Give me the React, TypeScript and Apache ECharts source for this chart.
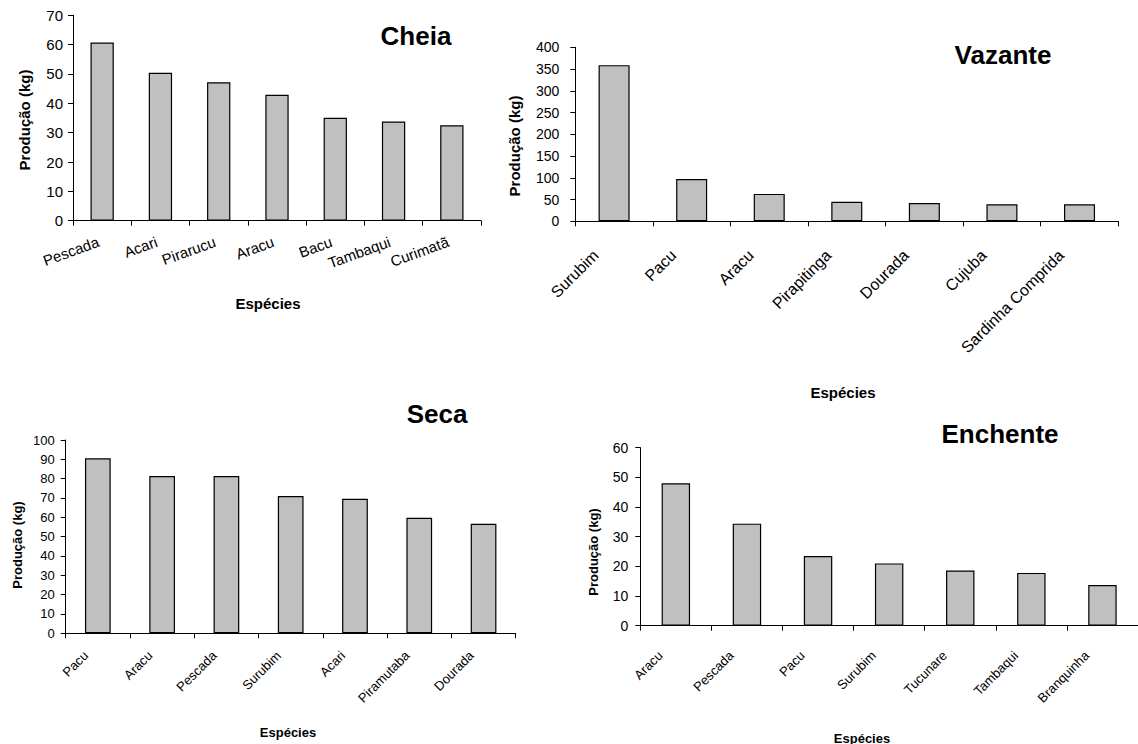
import React, { useEffect, useRef } from "react";
import * as echarts from "echarts";

const cheiaCategories = ["Pescada", "Acari", "Pirarucu", "Aracu", "Bacu", "Tambaqui", "Curimatã"];
const cheiaValues = [60.7, 50.4, 47.2, 42.9, 35.1, 33.8, 32.5];

const vazanteCategories = ["Surubim", "Pacu", "Aracu", "Pirapitinga", "Dourada", "Cujuba", "Sardinha Comprida"];
const vazanteValues = [359, 97, 63, 45, 42, 39, 39];

const secaCategories = ["Pacu", "Aracu", "Pescada", "Surubim", "Acari", "Piramutaba", "Dourada"];
const secaValues = [90.5, 81.4, 81.4, 71, 69.6, 59.8, 56.7];

const enchenteCategories = ["Aracu", "Pescada", "Pacu", "Surubim", "Tucunare", "Tambaqui", "Branquinha"];
const enchenteValues = [48, 34.4, 23.5, 21, 18.6, 17.8, 13.7];

const titles = ["Cheia", "Vazante", "Seca", "Enchente"];
const yMax = [70, 400, 100, 60];
const yInterval = [10, 50, 10, 10];
const yName = "Produção (kg)";
const xName = "Espécies";

const FONT = "'Liberation Sans', Arial, sans-serif";

export default function App() {
  const ref = useRef<HTMLDivElement>(null);
  useEffect(() => {
    document.body.style.margin = "0";
    const chart = echarts.init(ref.current!, null, { renderer: "svg" });

    const panels = [
      { cats: cheiaCategories, vals: cheiaValues, grid: { left: 73, top: 15.3, width: 408, height: 205.4 },
        yFont: 15, yMargin: 10, xFont: 15, rotate: 20, xMargin: 19, pad: 4 },
      { cats: vazanteCategories, vals: vazanteValues, grid: { left: 575.3, top: 47.3, width: 543, height: 174 },
        yFont: 14, yMargin: 16, xFont: 16, rotate: 45, xMargin: 13, pad: 26 },
      { cats: secaCategories, vals: secaValues, grid: { left: 65.7, top: 440, width: 450, height: 193.3 },
        yFont: 13, yMargin: 11, xFont: 13, rotate: 45, xMargin: 8, pad: 17 },
      { cats: enchenteCategories, vals: enchenteValues, grid: { left: 640.3, top: 447.7, width: 502.7, height: 178 },
        yFont: 14, yMargin: 12, xFont: 13, rotate: 45, xMargin: 12, pad: 22 },
    ];

    const axisLine = { show: true, lineStyle: { color: "#000", width: 1 } };
    const axisTick = { show: true, length: 5, lineStyle: { color: "#000", width: 1 } };

    const titlePos = [
      { x: 416, y: 36, size: 26 },
      { x: 1003, y: 55, size: 26 },
      { x: 437, y: 414, size: 26 },
      { x: 1000, y: 434, size: 26 },
    ];
    const xNamePos = [
      { x: 268, y: 303, size: 15 },
      { x: 843, y: 392, size: 15 },
      { x: 288, y: 732, size: 13 },
      { x: 862, y: 738, size: 13 },
    ];
    const yNamePos = [
      { x: 24, y: 120, size: 15 },
      { x: 514, y: 146, size: 15 },
      { x: 17, y: 545, size: 13 },
      { x: 593, y: 552, size: 13 },
    ];

    const graphic: any[] = [];
    titles.forEach((t, i) => {
      graphic.push({
        type: "text", x: titlePos[i].x, y: titlePos[i].y,
        style: { text: t, font: `bold ${titlePos[i].size}px ${FONT}`, fill: "#000", align: "center", verticalAlign: "middle" },
      });
      graphic.push({
        type: "text", x: xNamePos[i].x, y: xNamePos[i].y,
        style: { text: xName, font: `bold ${xNamePos[i].size}px ${FONT}`, fill: "#000", align: "center", verticalAlign: "middle" },
      });
      graphic.push({
        type: "text", x: yNamePos[i].x, y: yNamePos[i].y, rotation: Math.PI / 2,
        style: { text: yName, font: `bold ${yNamePos[i].size}px ${FONT}`, fill: "#000", align: "center", verticalAlign: "middle" },
      });
    });

    chart.setOption({
      animation: false,
      backgroundColor: "#fff",
      grid: panels.map((p) => ({ ...p.grid, containLabel: false })),
      xAxis: panels.map((p, i) => ({
        type: "category",
        gridIndex: i,
        data: p.cats,
        boundaryGap: true,
        axisLine,
        axisTick,
        splitLine: { show: false },
        axisLabel: {
          interval: 0,
          rotate: p.rotate,
          margin: p.xMargin,
          padding: [0, p.pad, 0, 0],
          fontSize: p.xFont,
          fontFamily: FONT,
          color: "#000",
        },
      })),
      yAxis: panels.map((p, i) => ({
        type: "value",
        gridIndex: i,
        min: 0,
        max: yMax[i],
        interval: yInterval[i],
        axisLine,
        axisTick,
        splitLine: { show: false },
        axisLabel: { fontSize: p.yFont, fontFamily: FONT, color: "#000", margin: p.yMargin },
      })),
      series: panels.map((p, i) => ({
        type: "bar",
        xAxisIndex: i,
        yAxisIndex: i,
        data: p.vals,
        barWidth: "40%",
        itemStyle: { color: "#c0c0c0", borderColor: "#000", borderWidth: 1.2 },
      })),
      graphic,
    });
    return () => chart.dispose();
  }, []);
  return <div ref={ref} style={{ position: "absolute", left: 0, top: 0, width: 1138, height: 744 }} />;
}
